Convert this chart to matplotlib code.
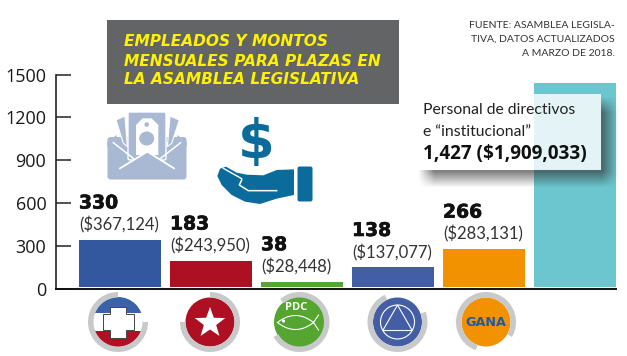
import numpy as np
import matplotlib
matplotlib.use("Agg")
import matplotlib.pyplot as plt
import matplotlib.patheffects as pe
from matplotlib.patches import Rectangle, Circle, Wedge, Polygon, FancyBboxPatch, Ellipse

# data
parties = ["ARENA", "FMLN", "PDC", "PCN", "GANA", "Personal"]
empleados = [330, 183, 38, 138, 266, 1427]
montos = ["($367,124)", "($243,950)", "($28,448)", "($137,077)", "($283,131)", None]
bar_colors = ["#34589f", "#ad1022", "#55a630", "#435ea4", "#f39200", "#6cc6cf"]
yticks = [0, 300, 600, 900, 1200, 1500]

W, H = 627, 356
NARROW = ["Lato", "DejaVu Sans"]
plt.rcParams["font.family"] = ["Open Sans", "DejaVu Sans"]

fig = plt.figure(figsize=(W / 100, H / 100), dpi=100, facecolor="white")

# chart axes, placed in pixels
left, right, top, bottom = 56, 616, 74.5, 289
ax = fig.add_axes([left / W, 1 - bottom / H, (right - left) / W, (bottom - top) / H])
step = 91
ax.set_xlim((left - 120) / step, (right - 120) / step)
ax.set_ylim(0, 1500)
x = np.arange(len(parties))
lift = 14  # bars float a little above the axis
ax.bar(x, empleados, width=82 / step, bottom=lift, color=bar_colors, linewidth=0)
ax.set_yticks(yticks)
ax.set_xticks([])
ax.tick_params(axis="y", direction="in", length=11, width=1.1, color="#222222", pad=7,
               labelsize=13, labelcolor="#1a1a1a")
for s in ["top", "right"]:
    ax.spines[s].set_visible(False)
ax.spines["left"].set_linewidth(1.2)
ax.spines["left"].set_color("#222222")
ax.spines["bottom"].set_linewidth(1.4)
ax.spines["bottom"].set_color("#111111")

for i, v in enumerate(empleados):
    if montos[i] is None:
        continue
    bx = i - 41 / step
    ax.annotate(montos[i], (bx, v + lift), xytext=(0, 10.5), textcoords="offset points",
                va="center", ha="left", fontsize=12, color="#333333", family=NARROW)
    t = ax.annotate(str(v), (bx, v + lift), xytext=(0, 26.5), textcoords="offset points",
                    va="center", ha="left", fontsize=13.5, color="#111111",
                    family="DejaVu Sans", fontweight="bold")
    t.set_path_effects([pe.withStroke(linewidth=0.5, foreground="#111111")])

# overlay in pixel coordinates for everything that is not the chart itself
ov = fig.add_axes([0, 0, 1, 1])
ov.set_xlim(0, W)
ov.set_ylim(H, 0)
ov.axis("off")
ov.patch.set_alpha(0)

# title block
ov.add_patch(Rectangle((107, 20), 292, 84, color="#636466", lw=0))
for line, yy in zip(["EMPLEADOS Y MONTOS", "MENSUALES PARA PLAZAS EN", "LA ASAMBLEA LEGISLATIVA"], [42, 61, 80]):
    ov.text(124, yy, line, color="#fff200", fontsize=11.1, family="DejaVu Sans", fontweight="bold",
            fontstyle="italic", va="center", ha="left")

# source
for line, yy in zip(["FUENTE: ASAMBLEA LEGISLA-", "TIVA, DATOS ACTUALIZADOS", "A MARZO DE 2018."], [25, 39, 53]):
    ov.text(615, yy, line, color="#333333", fontsize=7.5, va="center", ha="right", family=NARROW)

# soft shadow of the call-out box
bx0, bx1, by0, by1 = 415, 601, 94, 170
sx0, sx1, sy0, sy1 = 426, 610, 104, 179
yy, xx = np.mgrid[0:H, 0:W]
def soft(a, lo, hi, s=5.0):
    return np.clip((a - lo) / s + 0.5, 0, 1) * np.clip((hi - a) / s + 0.5, 0, 1)
shadow = np.zeros((H, W, 4))
shadow[..., :3] = 0.18
shadow[..., 3] = 0.6 * soft(xx, sx0, sx1, 16) * soft(yy, sy0, sy1, 16)
shadow[by0:by1, bx0:bx1, 3] = 0
ov.imshow(shadow, extent=(0, W, H, 0), aspect="auto", zorder=1, interpolation="bilinear")
ov.set_xlim(0, W)
ov.set_ylim(H, 0)
ov.add_patch(Rectangle((bx0, by0), bx1 - bx0, by1 - by0, color="white", alpha=0.82, lw=0, zorder=2))
ov.text(423, 110, "Personal de directivos", fontsize=11.3, color="#222222", va="center", zorder=3, family=NARROW)
ov.text(423, 132, "e \u201cinstitucional\u201d", fontsize=11.3, color="#222222", va="center", zorder=3, family=NARROW)
ov.text(423, 154, "1,427 ($1,909,033)", fontsize=13.6, color="#111111", va="center", zorder=3, fontweight="bold")


# envelope icon, points
def env(pts):
    return [(90 + a / 3, 100 + b / 3) for a, b in pts]

LAV = "#a9b8d3"
ov.add_patch(FancyBboxPatch((107.5, 137), 79, 42.5, boxstyle="round,pad=0,rounding_size=3", color=LAV, lw=0))
ov.add_patch(Polygon(env([(52, 125), (80, 105), (80, 140), (52, 140)]), color=LAV, lw=0))
ov.add_patch(Polygon(env([(290, 125), (262, 105), (262, 140), (290, 140)]), color=LAV, lw=0))
ov.add_patch(Polygon(env([(78, 60), (105, 48), (112, 140), (100, 130)]), color=LAV, lw=0.8, ec="white"))
ov.add_patch(Polygon(env([(268, 60), (240, 48), (232, 140), (245, 130)]), color=LAV, lw=0.8, ec="white"))
ov.add_patch(FancyBboxPatch((128, 112), 38, 48, boxstyle="round,pad=0,rounding_size=2", fc=LAV, ec="white", lw=1))
ov.add_patch(Polygon(env([(138, 165), (138, 75), (158, 55), (185, 55), (205, 75), (205, 165)]), color="white", lw=0))
ov.add_patch(Circle((146.7, 124.5), 2.3, color=LAV, lw=0))
ov.add_patch(Ellipse((146.7, 138.5), 15, 14, color=LAV, lw=0))
ov.add_patch(Polygon(env([(125, 185), (172, 155), (218, 185)]), color=LAV, lw=0))
ov.plot(*zip(*env([(70, 128), (130, 175)])), color="white", lw=1.1)
ov.plot(*zip(*env([(272, 128), (212, 175)])), color="white", lw=1.1)
ov.plot(*zip(*env([(90, 205), (172, 155), (252, 205)])), color="white", lw=1.3)

# hand and dollar icon
HAND = "#0b6b9b"
hand_pts = [(382, 228), (390, 206), (408, 200), (440, 218), (470, 224), (520, 226), (560, 210), (612, 208),
            (612, 285), (560, 296), (510, 312), (465, 305), (425, 285), (395, 255)]
ov.add_patch(Polygon(env(hand_pts), color=HAND, lw=0, zorder=3))
ov.add_patch(FancyBboxPatch((297.5, 166.5), 15, 35, boxstyle="round,pad=0,rounding_size=2", color=HAND, lw=0, zorder=3))
ov.plot(*zip(*env([(400, 205), (455, 236)])), color="white", lw=1, zorder=4)
ov.plot(*zip(*env([(455, 240), (448, 255), (475, 272), (560, 272)])), color="white", lw=1.1, zorder=4)
ov.text(256, 143, "$", color=HAND, fontsize=38, family="DejaVu Sans", fontweight="bold", ha="center", va="center")


# party logos
def ring(cx, cy, gap_from, gap_to):
    # gap given in the overlay's own angles, which run clockwise on screen
    end = gap_from if gap_from > gap_to else gap_from + 360
    ov.add_patch(Wedge((cx, cy), 30, gap_to, end, width=5.5, color="#c8c9cb", lw=0, zorder=2))

# ARENA
cx, cy = 118, 322
ov.add_patch(Circle((cx, cy), 25, color="white", lw=0))
clip = Circle((cx, cy), 25, transform=ov.transData)
for yy0, hh, col in [(cy - 25, 15.5, "#3a62a8"), (cy - 9.5, 18, "white"), (cy + 8.5, 17, "#b01023")]:
    r = Rectangle((cx - 26, yy0), 52, hh, color=col, lw=0)
    ov.add_patch(r)
    r.set_clip_path(clip)
cross = [(-8, -15.5), (8, -15.5), (8, -8), (15.5, -8), (15.5, 8), (8, 8), (8, 15.5), (-8, 15.5),
         (-8, 8), (-15.5, 8), (-15.5, -8), (-8, -8)]
ov.add_patch(Polygon([(cx + a, cy + b) for a, b in cross], fc="white", ec="#444444", lw=0.7))
ring(cx, cy, 270, 0)

# FMLN
cx, cy = 210, 322
ov.add_patch(Circle((cx, cy), 24.5, color="#ad1022", lw=0))
ang = np.deg2rad(np.arange(-90, 270, 36))
rad = np.array([16, 6.5] * 5)
ov.add_patch(Polygon(np.c_[cx + rad * np.cos(ang), cy + 1 + rad * np.sin(ang)], color="white", lw=0))
ring(cx, cy, 180, 270)

# PDC
cx, cy = 299.5, 322
ov.add_patch(Circle((cx, cy), 25.5, color="#55a630", lw=0))
ring(cx, cy, 150, 230)
ov.text(cx - 3, cy - 14, "PDC", color="white", fontsize=8, fontweight="bold", ha="center", va="center", zorder=4)
t = np.linspace(-1, 1, 30)
ov.plot(cx - 4 + 18 * t, cy + 0.5 + 7 * (1 - t ** 2), color="white", lw=0.8, zorder=4)
ov.plot(cx - 4 + 18 * t, cy + 0.5 - 7 * (1 - t ** 2), color="white", lw=0.8, zorder=4)
ov.plot([cx + 14, cx + 19], [cy + 0.5, cy - 7], color="white", lw=0.8, zorder=4)
ov.plot([cx + 14, cx + 19], [cy + 0.5, cy + 8], color="white", lw=0.8, zorder=4)
ov.add_patch(Circle((cx - 16, cy - 1), 1.6, color="white", lw=0, zorder=4))

# PCN
cx, cy = 397.5, 322
ov.add_patch(Circle((cx, cy), 24.5, color="#435ea4", lw=0))
ring(cx, cy, 245, 340)
ov.add_patch(Circle((cx, cy), 17, fc="none", ec="white", lw=0.8, zorder=4))
ov.add_patch(Polygon([(cx, cy - 17), (cx + 14.7, cy + 8.5), (cx - 14.7, cy + 8.5)], fc="none", ec="white", lw=0.8, zorder=4))

# GANA
cx, cy = 486, 322
ov.add_patch(Circle((cx, cy), 24.5, color="#f39200", lw=0))
ring(cx, cy, 30, 110)
ov.text(cx, cy + 1, "GANA", color="#1d5aa6", fontsize=9.2, family="DejaVu Sans", fontweight="bold",
        ha="center", va="center", zorder=4)

fig.savefig("out.png", dpi=100)
